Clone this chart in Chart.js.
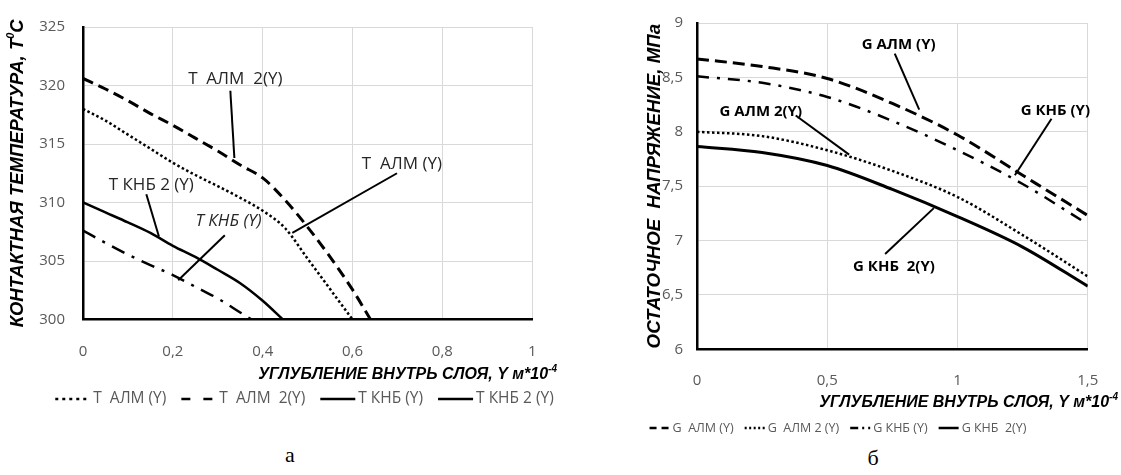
<!DOCTYPE html>
<html>
<head>
<meta charset="utf-8">
<script src="https://cdn.jsdelivr.net/npm/chart.js@4/dist/chart.umd.min.js"></script>
<style>
html,body{margin:0;padding:0;background:#fff;width:1121px;height:475px;overflow:hidden;position:relative;}
canvas{position:absolute;top:0;}
#c1{left:0;}
#c2{left:560px;}
.cap{position:absolute;font-family:'Liberation Serif','DejaVu Serif',serif;font-size:22px;color:#000;line-height:1;transform:translate(-50%,-50%);}
</style>
</head>
<body>
<canvas id="c1" width="560" height="418" style="width:560px;height:418px"></canvas>
<canvas id="c2" width="561" height="445" style="width:561px;height:445px"></canvas>
<div class="cap" style="left:290px;top:455px;">а</div>
<div class="cap" style="left:873px;top:458px;">б</div>
<script>
// ---------- DATA: chart "а" (contact temperature) ----------
const depthTAlm  = [0,0.05,0.1,0.15,0.2,0.25,0.3,0.35,0.4,0.45,0.5,0.55,0.6];
const tempTAlm   = [318,317,315.8,314.6,313.4,312.35,311.4,310.4,309.3,307.8,305.2,302.6,300];
const depthTAlm2 = [0,0.05,0.1,0.15,0.2,0.25,0.3,0.35,0.4,0.45,0.5,0.55,0.6,0.64];
const tempTAlm2  = [320.6,319.7,318.7,317.6,316.6,315.5,314.4,313.2,312.1,310.2,307.9,305.35,302.55,300];
const depthTKnb  = [0,0.05,0.1,0.15,0.2,0.25,0.3,0.35,0.375];
const tempTKnb   = [307.6,306.55,305.55,304.65,303.8,302.8,301.8,300.6,300];
const depthTKnb2 = [0,0.05,0.1,0.15,0.2,0.25,0.3,0.35,0.4,0.445];
const tempTKnb2  = [310,309.15,308.3,307.4,306.3,305.35,304.25,303.1,301.6,300];
const namesT = ['T  АЛМ (Y)','T  АЛМ  2(Y)','T КНБ (Y)','T КНБ 2 (Y)'];
const xTicksT = [0,0.2,0.4,0.6,0.8,1];
const yTicksT = [300,305,310,315,320,325];

// ---------- DATA: chart "б" (residual stress) ----------
const depthG  = [0,0.25,0.5,0.75,1,1.25,1.5];
const gAlm    = [8.67,8.6,8.49,8.26,7.97,7.6,7.23];
const gAlm2   = [8.0,7.96,7.83,7.64,7.4,7.05,6.67];
const gKnb    = [8.51,8.45,8.32,8.1,7.83,7.52,7.15];
const gKnb2   = [7.865,7.81,7.69,7.47,7.22,6.94,6.58];
const namesG = ['G  АЛМ (Y)','G  АЛМ 2 (Y)','G КНБ (Y)','G КНБ  2(Y)'];
const xTicksG = [0,0.5,1,1.5];
const yTicksG = [6,6.5,7,7.5,8,8.5,9];

// ---------- TEXTS ----------
const yTitleT = [{t:'КОНТАКТНАЯ ТЕМПЕРАТУРА, T'},{t:'0',sup:true},{t:'C'}];
const yTitleG = [{t:'ОСТАТОЧНОЕ  НАПРЯЖЕНИЕ, МПа'}];
const xTitle  = [{t:'УГЛУБЛЕНИЕ ВНУТРЬ СЛОЯ, Y м*10'},{t:'-4',sup:true}];

// callout labels (anchored in data coordinates)
const calloutTextT = ['T  АЛМ  2(Y)','T КНБ 2 (Y)','T КНБ (Y)','T  АЛМ (Y)'];
const calloutPosT  = [[0.339,320.5],[0.152,311.5],[0.324,308.4],[0.71,313.3]];
const calloutFromT = [[0.328,319.55],[0.141,310.7],[0.3157,307.2],[0.699,312.5]];
const calloutToT   = [[0.337,313.8],[0.169,307.1],[0.212,303.35],[0.466,307.4]];
const calloutItalicT = [false,false,true,false];

const calloutTextG = ['G АЛМ (Y)','G КНБ (Y)','G АЛМ 2(Y)','G КНБ  2(Y)'];
const calloutPosG  = [[0.774,8.797],[1.3756,8.195],[0.245,8.186],[0.756,6.757]];
const calloutFromG = [[0.759,8.719],[1.3607,8.12],[0.379,8.15],[0.722,6.877]];
const calloutToG   = [[0.853,8.204],[1.22,7.6],[0.584,7.79],[0.909,7.298]];

// ---------- helpers ----------
const UI = "'Open Sans','Liberation Sans',sans-serif";
const TITLE = "'Liberation Sans','Arial',sans-serif";
const G_LABEL_FONT = "bold 15px 'Open Sans','Liberation Sans',sans-serif";

const pts = (xs,ys)=>xs.map((x,i)=>({x:x,y:ys[i]}));
const comma = v => String(Math.round(v*100)/100).replace('.',',');

function drawParts(ctx, parts, x, y, align, size, family){
  const fm = 'italic bold '+size+'px '+family;
  const fs = 'italic bold '+Math.round(size*0.62)+'px '+family;
  let total=0;
  parts.forEach(p=>{ctx.font=p.sup?fs:fm; p.w=ctx.measureText(p.t).width; total+=p.w;});
  let cx = align==='right'? x-total : (align==='center'? x-total/2 : x);
  ctx.textAlign='left'; ctx.textBaseline='middle'; ctx.fillStyle='#000';
  parts.forEach(p=>{ctx.font=p.sup?fs:fm; ctx.fillText(p.t, cx, p.sup? y-size*0.36 : y); cx+=p.w;});
}

function titlesPlugin(yParts, yX, ySize, xParts, xRight, xY, xSize){
  return {
    id:'axisTitles',
    afterDraw(chart){
      const ctx=chart.ctx, ca=chart.chartArea;
      ctx.save();
      ctx.translate(yX,(ca.top+ca.bottom)/2);
      ctx.rotate(-Math.PI/2);
      drawParts(ctx,yParts,0,0,'center',ySize,TITLE);
      ctx.restore();
      ctx.save();
      drawParts(ctx,xParts,xRight,xY,'right',xSize,TITLE);
      ctx.restore();
    }
  };
}

function calloutPlugin(texts,pos,from,to,fontFn,color){
  return {
    id:'callouts',
    afterDatasetsDraw(chart){
      const ctx=chart.ctx, xs=chart.scales.x, ys=chart.scales.y;
      ctx.save();
      texts.forEach((t,i)=>{
        ctx.font=fontFn(i); ctx.fillStyle=color; ctx.textAlign='center'; ctx.textBaseline='middle';
        ctx.fillText(t, xs.getPixelForValue(pos[i][0]), ys.getPixelForValue(pos[i][1]));
        ctx.beginPath(); ctx.setLineDash([]); ctx.strokeStyle='#000'; ctx.lineWidth=2;
        ctx.moveTo(xs.getPixelForValue(from[i][0]), ys.getPixelForValue(from[i][1]));
        ctx.lineTo(xs.getPixelForValue(to[i][0]), ys.getPixelForValue(to[i][1]));
        ctx.stroke();
      });
      ctx.restore();
    }
  };
}

// legend row built from the chart's datasets (labels) with custom line samples
function legendPlugin(cfg){
  return {
    id:'rowLegend',
    afterDraw(chart){
      const ctx=chart.ctx;
      ctx.save();
      ctx.font=cfg.font;
      const items=chart.data.datasets.map((d,i)=>({text:d.label,dash:cfg.dashes[i],w:ctx.measureText(d.label).width}));
      const total=items.reduce((s,it)=>s+cfg.sample+cfg.gap+it.w,0)+cfg.spacing*(items.length-1);
      let x=cfg.cx-total/2;
      items.forEach(it=>{
        ctx.beginPath(); ctx.setLineDash(it.dash); ctx.lineDashOffset=0;
        ctx.lineWidth=cfg.lw; ctx.strokeStyle='#000'; ctx.lineCap='butt';
        ctx.moveTo(x,cfg.y); ctx.lineTo(x+cfg.sample,cfg.y); ctx.stroke();
        x+=cfg.sample+cfg.gap;
        ctx.setLineDash([]);
        ctx.fillStyle='#595959'; ctx.textAlign='left'; ctx.textBaseline='middle';
        ctx.fillText(it.text,x,cfg.y);
        x+=it.w+cfg.spacing;
      });
      ctx.restore();
    }
  };
}

function lineDs(label,data,dash,width){
  return {label:label,data:data,showLine:true,borderColor:'#000',backgroundColor:'#000',
    borderWidth:width,borderDash:dash,borderCapStyle:'butt',pointRadius:0,pointHoverRadius:0,
    cubicInterpolationMode:'monotone',fill:false};
}

const gridColor='#d9d9d9';

// ---------- Chart а ----------
new Chart(document.getElementById('c1'),{
  type:'scatter',
  data:{datasets:[
    lineDs(namesT[0],pts(depthTAlm,tempTAlm),[2.5,2.5],2.5),
    lineDs(namesT[1],pts(depthTAlm2,tempTAlm2),[11,6],3),
    lineDs(namesT[2],pts(depthTKnb,tempTKnb),[14,8,3,8],2.5),
    lineDs(namesT[3],pts(depthTKnb2,tempTKnb2),[],2.5)
  ]},
  options:{
    responsive:false,animation:false,
    layout:{padding:{left:0,right:4,top:23.5,bottom:35.5}},
    scales:{
      x:{type:'linear',min:0,max:1,
        afterBuildTicks:s=>{s.ticks=xTicksT.map(v=>({value:v}));},
        afterFit:s=>{s.height=63;},
        grid:{color:gridColor,lineWidth:1,drawTicks:false},
        border:{color:'#000',width:2.5},
        ticks:{padding:23.5,color:'#595959',font:{family:UI,size:15},callback:v=>comma(v),maxRotation:0}
      },
      y:{type:'linear',min:300,max:325,
        afterBuildTicks:s=>{s.ticks=yTicksT.map(v=>({value:v}));},
        afterFit:s=>{s.width=83;},
        grid:{color:gridColor,lineWidth:1,drawTicks:false},
        border:{color:'#000',width:2.5},
        ticks:{padding:18,color:'#595959',font:{family:UI,size:15},callback:v=>String(v)}
      }
    },
    plugins:{legend:{display:false},tooltip:{enabled:false}}
  },
  plugins:[
    calloutPlugin(calloutTextT,calloutPosT,calloutFromT,calloutToT,
      i=>(calloutItalicT[i]?'italic ':'')+'17px '+UI,'#262626'),
    titlesPlugin(yTitleT,18,18.5,xTitle,557,375,16),
    legendPlugin({cx:304.5,y:399,font:'15.5px '+UI,sample:35,gap:3,spacing:15,lw:2.5,
      dashes:[[3,4],[9,13],[],[]]})
  ]
});

// ---------- Chart б ----------
new Chart(document.getElementById('c2'),{
  type:'scatter',
  data:{datasets:[
    lineDs(namesG[0],pts(depthG,gAlm),[12,6],3),
    lineDs(namesG[1],pts(depthG,gAlm2),[2.5,2.5],2.5),
    lineDs(namesG[2],pts(depthG,gKnb),[12,8,3,8],2.5),
    lineDs(namesG[3],pts(depthG,gKnb2),[],3)
  ]},
  options:{
    responsive:false,animation:false,
    layout:{padding:{left:22,right:23,top:15.4,bottom:29.25}},
    scales:{
      x:{type:'linear',min:0,max:1.5,
        afterBuildTicks:s=>{s.ticks=xTicksG.map(v=>({value:v}));},
        afterFit:s=>{s.height=66.45;},
        grid:{color:gridColor,lineWidth:1,drawTicks:false},
        border:{color:'#000',width:2.5},
        ticks:{padding:22.7,color:'#595959',font:{family:UI,size:15},callback:v=>comma(v),maxRotation:0}
      },
      y:{type:'linear',min:6,max:9,
        afterBuildTicks:s=>{s.ticks=yTicksG.map(v=>({value:v}));},
        afterFit:s=>{s.width=115;},
        grid:{color:gridColor,lineWidth:1,drawTicks:false},
        border:{color:'#000',width:2.5},
        ticks:{padding:14,color:'#595959',font:{family:UI,size:15},callback:v=>comma(v)}
      }
    },
    plugins:{legend:{display:false},tooltip:{enabled:false}}
  },
  plugins:[
    calloutPlugin(calloutTextG,calloutPosG,calloutFromG,calloutToG,()=>G_LABEL_FONT,'#000'),
    titlesPlugin(yTitleG,95,18.7,xTitle,558,403,16),
    legendPlugin({cx:278,y:428,font:'12.5px '+UI,sample:20,gap:3,spacing:11,lw:2.5,
      dashes:[[7,5],[2,2.5],[8,4,2,4],[]]})
  ]
});
</script>
</body>
</html>
